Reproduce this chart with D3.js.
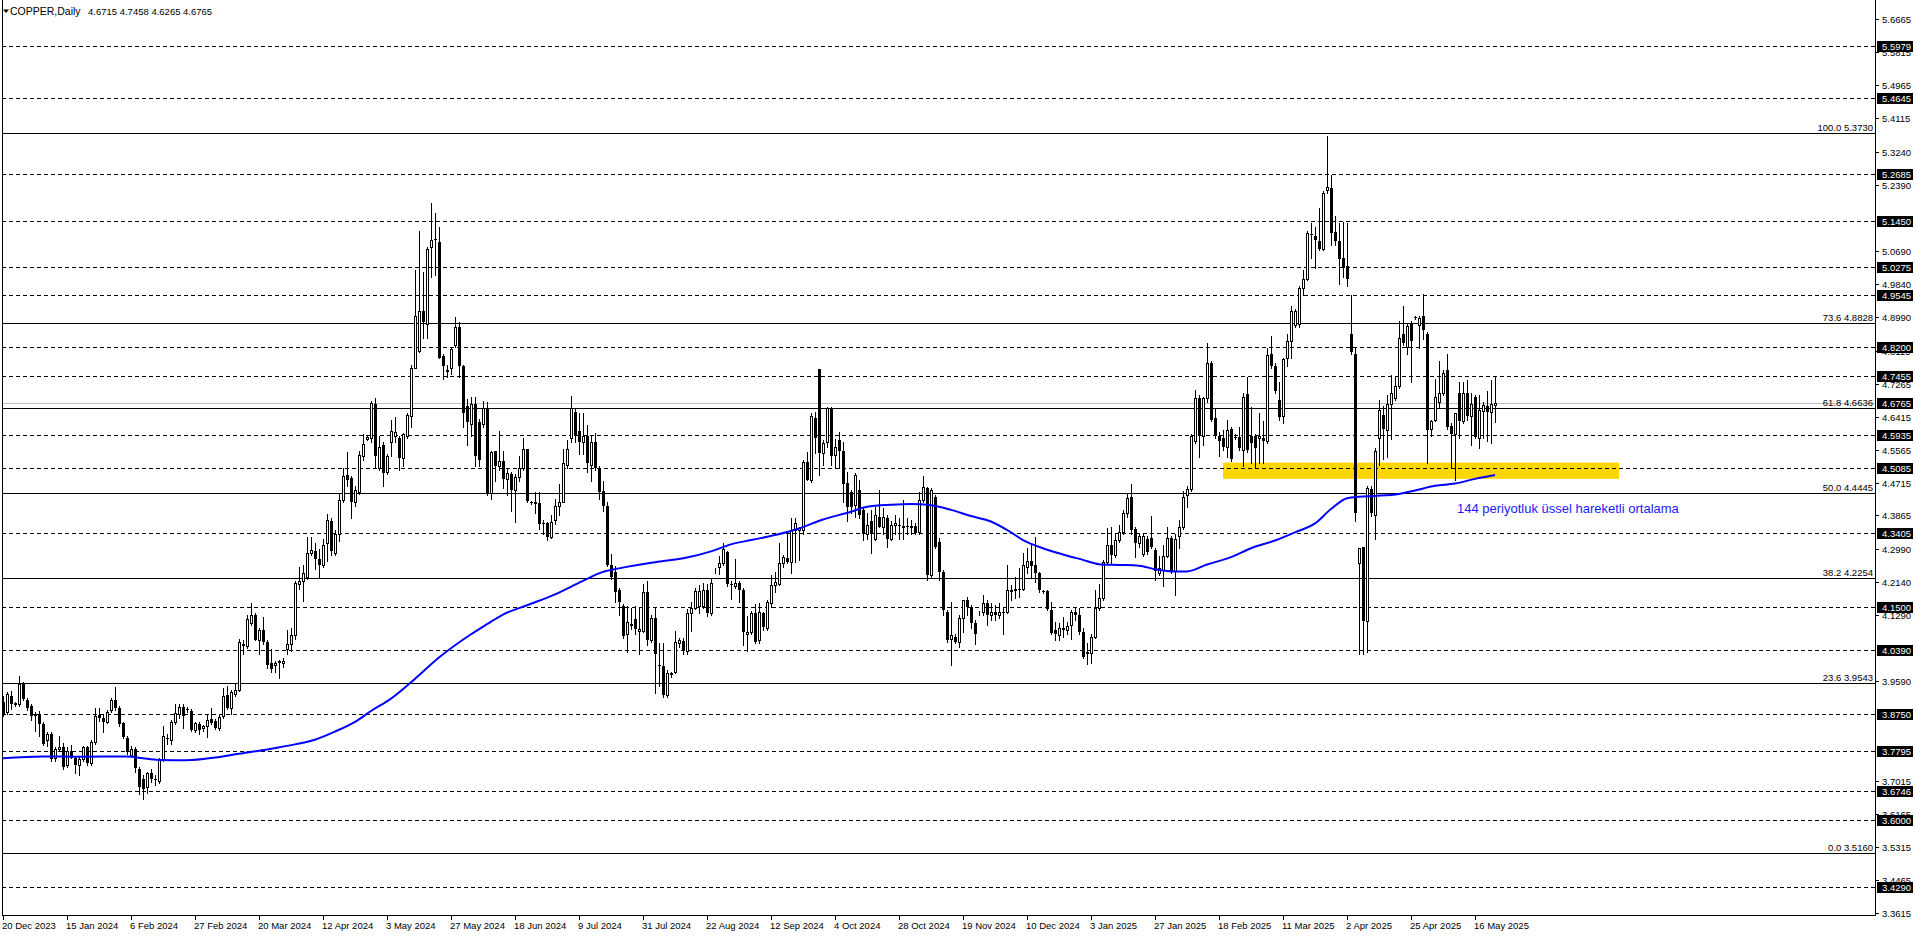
<!DOCTYPE html>
<html><head><meta charset="utf-8">
<script src="https://cdn.jsdelivr.net/npm/d3@7"></script>
<style>
html,body{margin:0;padding:0;background:#fff;overflow:hidden}
svg{display:block}
text{font-family:"Liberation Sans",Arial,sans-serif}
</style></head><body>
<svg id="chart" width="1916" height="936"></svg>
<script>
// ---------------- data ----------------
const symbolTitle = "COPPER,Daily";
const ohlcTitle = "4.6715 4.7458 4.6265 4.6765";
const emaLabel = "144 periyotluk üssel hareketli ortalama";

const xTickBars = [0,16,32,48,64,80,96,112,128,144,160,176,192,208,224,240,256,272,288,304,320,336,352,368];
const xTickLabels = ["20 Dec 2023","15 Jan 2024","6 Feb 2024","27 Feb 2024","20 Mar 2024","12 Apr 2024","3 May 2024","27 May 2024","18 Jun 2024","9 Jul 2024","31 Jul 2024","22 Aug 2024","12 Sep 2024","4 Oct 2024","28 Oct 2024","19 Nov 2024","10 Dec 2024","3 Jan 2025","27 Jan 2025","18 Feb 2025","11 Mar 2025","2 Apr 2025","25 Apr 2025","16 May 2025"];

// visible price-scale labels (the ones fully hidden behind level boxes are left out)
const yTickLabels = [5.6665,5.5815,5.4965,5.4115,5.3240,5.2390,5.0690,4.9840,4.8990,4.8115,4.7265,4.6415,4.5565,4.4715,4.3865,4.2990,4.2140,4.1290,3.9590,3.7015,3.6165,3.5315,3.4465,3.3615];

const levelPrices = [5.5979,5.4645,5.2685,5.1450,5.0275,4.9545,4.8200,4.7455,4.5935,4.5085,4.3405,4.1500,4.0390,3.8750,3.7795,3.6746,3.6000,3.4290];
const currentPrice = 4.6765;

const fibRatios = ["100.0","73.6","61.8","50.0","38.2","23.6","0.0"];
const fibPrices = [5.3730,4.8828,4.6636,4.4445,4.2254,3.9543,3.5160];

const zoneBars = [305,404];
const zonePrices = [4.523,4.481];

const opens = [
3.905,3.880,3.921,3.900,3.900,3.951,3.910,3.895,3.875,3.875,
3.849,3.808,3.823,3.762,3.785,3.788,3.742,3.780,3.762,3.742,
3.757,3.788,3.747,3.803,3.872,3.865,3.854,3.885,3.910,3.890,
3.851,3.813,3.769,3.783,3.732,3.706,3.685,3.721,3.706,3.701,
3.757,3.813,3.808,3.854,3.875,3.892,3.887,3.882,3.834,3.849,
3.837,3.844,3.861,3.856,3.839,3.870,3.923,3.890,3.926,3.936,
4.054,4.049,4.110,4.130,4.064,4.090,4.059,4.007,4.002,4.010,
4.005,4.043,4.054,4.077,4.209,4.217,4.228,4.291,4.294,4.274,
4.258,4.315,4.373,4.289,4.340,4.427,4.491,4.483,4.422,4.448,
4.540,4.585,4.586,4.673,4.508,4.568,4.499,4.577,4.591,4.586,
4.536,4.591,4.643,4.766,4.812,4.915,4.881,5.079,5.100,5.093,
4.798,4.761,4.766,4.826,4.874,4.771,4.669,4.623,4.674,4.628,
4.623,4.665,4.444,4.554,4.513,4.527,4.480,4.494,4.453,4.487,
4.508,4.557,4.420,4.420,4.419,4.367,4.367,4.330,4.375,4.411,
4.422,4.517,4.586,4.653,4.605,4.577,4.591,4.517,4.577,4.508,
4.450,4.411,4.259,4.241,4.195,4.154,4.080,4.105,4.119,4.089,
4.089,4.190,4.066,4.121,4.002,3.997,3.923,3.981,3.983,4.057,
4.063,4.038,4.135,4.149,4.154,4.154,4.195,4.135,4.245,4.253,
4.264,4.293,4.210,4.204,4.213,4.195,4.082,4.085,4.135,4.065,
4.134,4.095,4.160,4.207,4.211,4.263,4.276,4.267,4.349,4.349,
4.349,4.525,4.478,4.637,4.764,4.547,4.577,4.663,4.542,4.580,
4.554,4.471,4.448,4.413,4.452,4.401,4.340,4.371,4.327,4.383,
4.358,4.379,4.327,4.362,4.361,4.357,4.359,4.357,4.359,4.345,
4.426,4.457,4.233,4.435,4.319,4.241,4.138,4.069,4.074,4.061,
4.121,4.168,4.151,4.108,4.134,4.138,4.160,4.130,4.138,4.130,
4.138,4.138,4.194,4.194,4.198,4.198,4.254,4.269,4.259,4.237,
4.192,4.192,4.143,4.091,4.078,4.095,4.091,4.104,4.138,4.130,
4.087,4.031,4.031,4.074,4.147,4.173,4.267,4.310,4.285,4.323,
4.345,4.392,4.435,4.352,4.316,4.288,4.325,4.329,4.297,4.237,
4.247,4.283,4.329,4.242,4.334,4.357,4.440,4.454,4.578,4.689,
4.592,4.689,4.781,4.638,4.592,4.587,4.564,4.610,4.590,4.589,
4.555,4.700,4.592,4.592,4.587,4.587,4.578,4.804,4.771,4.684,
4.643,4.794,4.836,4.877,4.880,4.974,4.997,5.112,5.108,5.094,
5.075,5.227,5.232,5.117,5.094,5.052,5.029,4.854,4.804,4.265,
4.306,4.113,4.454,4.389,4.587,4.647,4.606,4.675,4.689,4.721,
4.854,4.822,4.882,4.898,4.877,4.900,4.854,4.610,4.633,4.679,
4.702,4.762,4.617,4.596,4.702,4.629,4.702,4.643,4.693,4.587,
4.656,4.670,4.654,4.6715];

const highs = [
3.921,3.931,3.933,3.905,3.972,3.956,3.915,3.900,3.880,3.882,
3.855,3.829,3.827,3.788,3.818,3.800,3.790,3.795,3.767,3.767,
3.793,3.793,3.808,3.890,3.890,3.875,3.885,3.915,3.943,3.895,
3.854,3.818,3.793,3.788,3.737,3.716,3.726,3.732,3.716,3.762,
3.844,3.823,3.859,3.900,3.900,3.900,3.893,3.887,3.854,3.854,
3.846,3.875,3.890,3.862,3.875,3.941,3.946,3.936,3.951,4.069,
4.064,4.130,4.161,4.135,4.095,4.125,4.064,4.043,4.010,4.013,
4.018,4.090,4.095,4.217,4.253,4.258,4.330,4.330,4.315,4.299,
4.325,4.391,4.381,4.350,4.442,4.509,4.550,4.488,4.463,4.553,
4.596,4.591,4.683,4.690,4.591,4.577,4.545,4.632,4.641,4.591,
4.600,4.651,4.775,5.019,5.121,5.015,5.079,5.192,5.168,5.130,
4.803,4.775,4.821,4.899,4.886,4.775,4.688,4.692,4.692,4.635,
4.683,4.678,4.554,4.554,4.605,4.554,4.508,4.499,4.494,4.540,
4.586,4.559,4.425,4.448,4.448,4.375,4.370,4.388,4.430,4.467,
4.559,4.582,4.695,4.665,4.651,4.651,4.619,4.591,4.600,4.513,
4.476,4.422,4.287,4.255,4.200,4.158,4.154,4.149,4.152,4.149,
4.209,4.218,4.130,4.149,4.057,4.057,3.988,3.983,4.089,4.071,
4.071,4.144,4.163,4.200,4.207,4.213,4.209,4.223,4.250,4.282,
4.315,4.296,4.218,4.273,4.218,4.200,4.126,4.140,4.158,4.160,
4.138,4.168,4.233,4.241,4.315,4.285,4.340,4.379,4.379,4.358,
4.530,4.551,4.650,4.654,4.764,4.581,4.667,4.667,4.585,4.603,
4.577,4.499,4.452,4.495,4.478,4.405,4.392,4.401,4.409,4.452,
4.405,4.388,4.371,4.388,4.379,4.426,4.379,4.375,4.366,4.448,
4.488,4.461,4.457,4.439,4.328,4.246,4.143,4.164,4.082,4.129,
4.168,4.177,4.155,4.117,4.140,4.181,4.168,4.160,4.155,4.160,
4.151,4.259,4.207,4.229,4.250,4.289,4.302,4.315,4.332,4.241,
4.194,4.194,4.164,4.112,4.108,4.125,4.112,4.143,4.147,4.147,
4.095,4.057,4.082,4.194,4.211,4.272,4.353,4.358,4.340,4.362,
4.400,4.444,4.467,4.357,4.339,4.339,4.334,4.385,4.302,4.283,
4.311,4.357,4.334,4.339,4.375,4.449,4.463,4.596,4.711,4.698,
4.693,4.831,4.785,4.665,4.601,4.606,4.633,4.615,4.596,4.615,
4.702,4.744,4.666,4.596,4.652,4.629,4.818,4.850,4.781,4.730,
4.794,4.854,4.928,4.919,4.979,5.020,5.121,5.140,5.131,5.181,
5.223,5.366,5.264,5.158,5.140,5.144,5.140,4.956,4.818,4.302,
4.306,4.463,4.463,4.560,4.684,4.670,4.698,4.748,4.744,4.887,
4.928,4.882,4.887,4.900,4.900,4.958,4.859,4.633,4.739,4.785,
4.762,4.804,4.624,4.652,4.730,4.730,4.735,4.702,4.698,4.698,
4.679,4.707,4.736,4.7458];

const lows = [
3.870,3.875,3.888,3.895,3.895,3.910,3.885,3.859,3.831,3.818,
3.795,3.792,3.752,3.752,3.778,3.732,3.737,3.762,3.721,3.716,
3.752,3.742,3.742,3.798,3.857,3.829,3.851,3.880,3.885,3.844,
3.813,3.772,3.767,3.726,3.668,3.655,3.670,3.700,3.690,3.696,
3.752,3.798,3.798,3.849,3.865,3.839,3.880,3.831,3.829,3.824,
3.831,3.816,3.849,3.836,3.834,3.865,3.888,3.875,3.921,3.933,
4.030,4.044,4.105,4.064,4.028,4.054,3.992,3.982,3.982,3.967,
3.995,4.028,4.038,4.069,4.197,4.166,4.223,4.284,4.248,4.228,
4.253,4.269,4.284,4.284,4.320,4.422,4.463,4.381,4.412,4.442,
4.530,4.580,4.575,4.509,4.504,4.462,4.494,4.540,4.577,4.503,
4.513,4.586,4.614,4.766,4.807,4.844,4.844,5.001,5.006,4.793,
4.738,4.743,4.752,4.821,4.743,4.614,4.568,4.591,4.513,4.513,
4.614,4.439,4.430,4.476,4.503,4.458,4.439,4.397,4.370,4.476,
4.503,4.421,4.416,4.393,4.352,4.338,4.324,4.328,4.365,4.388,
4.421,4.508,4.577,4.577,4.545,4.545,4.499,4.476,4.505,4.430,
4.398,4.255,4.223,4.163,4.130,4.071,4.034,4.094,4.080,4.029,
4.085,4.052,4.061,3.928,3.946,3.919,3.919,3.969,3.979,4.048,
4.029,4.029,4.089,4.144,4.135,4.149,4.126,4.130,4.238,4.236,
4.259,4.204,4.172,4.200,4.163,4.052,4.038,4.080,4.057,4.057,
4.091,4.091,4.151,4.190,4.207,4.254,4.263,4.237,4.267,4.272,
4.340,4.478,4.474,4.547,4.491,4.517,4.564,4.517,4.508,4.508,
4.422,4.371,4.392,4.383,4.379,4.323,4.327,4.289,4.323,4.357,
4.340,4.306,4.323,4.340,4.327,4.327,4.340,4.340,4.340,4.340,
4.422,4.220,4.229,4.302,4.220,4.129,4.061,4.001,4.057,4.048,
4.087,4.129,4.095,4.056,4.130,4.130,4.104,4.117,4.117,4.121,
4.082,4.134,4.168,4.173,4.177,4.194,4.237,4.224,4.216,4.190,
4.186,4.143,4.082,4.065,4.065,4.074,4.082,4.069,4.117,4.082,
4.018,4.003,4.005,4.070,4.142,4.168,4.263,4.263,4.280,4.319,
4.340,4.383,4.339,4.279,4.306,4.283,4.288,4.302,4.219,4.233,
4.205,4.279,4.237,4.182,4.302,4.352,4.408,4.449,4.573,4.537,
4.569,4.679,4.629,4.587,4.541,4.555,4.537,4.527,4.583,4.555,
4.514,4.550,4.523,4.509,4.523,4.523,4.573,4.767,4.702,4.633,
4.624,4.771,4.794,4.873,4.873,4.956,4.993,5.052,5.025,5.071,
5.071,5.218,5.085,5.085,4.983,5.002,4.979,4.804,4.371,4.030,
4.030,4.035,4.385,4.325,4.518,4.532,4.537,4.583,4.684,4.716,
4.827,4.804,4.730,4.893,4.818,4.841,4.523,4.592,4.629,4.666,
4.698,4.610,4.509,4.477,4.587,4.624,4.633,4.569,4.587,4.560,
4.587,4.578,4.573,4.6265];

const closes = [
3.875,3.926,3.900,3.902,3.951,3.912,3.890,3.870,3.868,3.849,
3.798,3.823,3.757,3.783,3.790,3.737,3.780,3.762,3.742,3.757,
3.788,3.747,3.803,3.870,3.865,3.854,3.880,3.910,3.890,3.849,
3.816,3.777,3.783,3.735,3.685,3.680,3.721,3.706,3.703,3.757,
3.818,3.810,3.854,3.878,3.892,3.870,3.886,3.834,3.851,3.834,
3.844,3.859,3.851,3.839,3.867,3.921,3.890,3.931,3.936,4.059,
4.049,4.120,4.130,4.064,4.090,4.059,4.002,3.990,4.007,4.007,
4.010,4.056,4.077,4.212,4.217,4.238,4.291,4.297,4.274,4.258,
4.311,4.376,4.294,4.340,4.427,4.488,4.478,4.422,4.453,4.543,
4.572,4.588,4.676,4.540,4.563,4.496,4.540,4.605,4.603,4.536,
4.597,4.646,4.766,4.900,4.913,4.886,5.073,5.098,5.097,4.794,
4.771,4.757,4.817,4.872,4.771,4.651,4.628,4.674,4.540,4.530,
4.665,4.444,4.549,4.513,4.527,4.480,4.496,4.453,4.487,4.508,
4.557,4.425,4.418,4.416,4.365,4.365,4.330,4.370,4.411,4.422,
4.522,4.559,4.665,4.591,4.577,4.591,4.522,4.577,4.508,4.448,
4.411,4.259,4.227,4.190,4.163,4.075,4.112,4.106,4.094,4.094,
4.190,4.066,4.121,4.029,3.997,3.923,3.979,3.976,4.061,4.066,
4.038,4.135,4.149,4.192,4.192,4.195,4.135,4.213,4.246,4.264,
4.301,4.209,4.209,4.213,4.195,4.085,4.085,4.135,4.061,4.138,
4.100,4.164,4.207,4.216,4.263,4.280,4.267,4.349,4.366,4.353,
4.525,4.478,4.643,4.586,4.547,4.574,4.663,4.540,4.564,4.554,
4.469,4.409,4.409,4.491,4.388,4.340,4.362,4.340,4.388,4.358,
4.383,4.327,4.362,4.366,4.359,4.360,4.358,4.359,4.342,4.426,
4.461,4.233,4.452,4.306,4.241,4.143,4.065,4.078,4.061,4.121,
4.168,4.151,4.108,4.082,4.136,4.160,4.130,4.138,4.130,4.138,
4.134,4.194,4.190,4.198,4.194,4.259,4.269,4.256,4.237,4.194,
4.190,4.144,4.084,4.082,4.095,4.091,4.101,4.138,4.130,4.087,
4.022,4.035,4.074,4.147,4.173,4.267,4.310,4.285,4.323,4.345,
4.392,4.431,4.348,4.316,4.334,4.334,4.293,4.306,4.242,4.251,
4.283,4.329,4.242,4.325,4.357,4.435,4.454,4.592,4.689,4.592,
4.689,4.781,4.633,4.592,4.578,4.564,4.606,4.532,4.588,4.560,
4.693,4.555,4.573,4.560,4.592,4.578,4.801,4.771,4.707,4.641,
4.790,4.836,4.914,4.914,4.974,4.997,5.114,5.109,5.098,5.075,
5.218,5.234,5.114,5.094,5.048,5.025,4.997,4.808,4.394,4.302,
4.113,4.458,4.394,4.552,4.659,4.610,4.675,4.702,4.721,4.845,
4.831,4.875,4.836,4.897,4.896,4.864,4.606,4.629,4.693,4.702,
4.753,4.615,4.596,4.652,4.629,4.702,4.643,4.675,4.589,4.659,
4.672,4.654,4.675,4.6765];

// 144-period EMA at sample bars
const emaBars = [0,10,20,31,35,39,46,53,59,66,73,78,83,88,92,97,102,109,117,121,125,131,138,145,150,154,163,171,177,182,187,193,199,205,212,216,222,227,232,237,242,247,252,255,260,265,270,274,279,284,288,293,296,301,307,312,318,323,328,332,336,339,343,349,353,358,363,368,373];
const emaValues = [3.760,3.765,3.764,3.765,3.760,3.756,3.755,3.762,3.772,3.783,3.796,3.808,3.829,3.854,3.882,3.914,3.956,4.020,4.080,4.106,4.131,4.155,4.183,4.218,4.241,4.250,4.266,4.278,4.294,4.312,4.323,4.336,4.353,4.376,4.396,4.409,4.414,4.416,4.413,4.401,4.385,4.371,4.343,4.323,4.302,4.286,4.272,4.261,4.259,4.257,4.248,4.242,4.242,4.260,4.279,4.302,4.322,4.343,4.366,4.403,4.431,4.435,4.437,4.442,4.451,4.463,4.469,4.481,4.491];

// ---------------- drawing ----------------
const W = 1916, H = 936;
const L = 2, R = 1875, B = 915;
const svg = d3.select("#chart");
svg.append("rect").attr("width", W).attr("height", H).attr("fill", "#fff");

const x = d3.scaleLinear().domain([0, 373]).range([3, 1495]);
const y = d3.scaleLinear().domain([3.3558, 5.7138]).range([915, 1]);
const py = p => Math.round(y(p)) + 0.5;

svg.append("defs").append("clipPath").attr("id", "plotclip")
  .append("rect").attr("x", L + 1).attr("y", 0).attr("width", R - L - 1).attr("height", B);
const plot = svg.append("g").attr("clip-path", "url(#plotclip)");

// yellow support zone
plot.append("rect")
  .attr("x", x(zoneBars[0])).attr("width", x(zoneBars[1]) - x(zoneBars[0]))
  .attr("y", y(zonePrices[0])).attr("height", y(zonePrices[1]) - y(zonePrices[0]))
  .attr("fill", "#FFD700");

// dashed horizontal levels
plot.selectAll("line.lvl").data(levelPrices).join("line").attr("class", "lvl")
  .attr("x1", L).attr("x2", R).attr("y1", py).attr("y2", py)
  .attr("stroke", "#000").attr("stroke-width", 1).attr("stroke-dasharray", "4,3");

// current price line
plot.append("line").attr("x1", L).attr("x2", R)
  .attr("y1", py(currentPrice)).attr("y2", py(currentPrice))
  .attr("stroke", "#C0C0C0").attr("stroke-width", 1);

// fibonacci lines
plot.selectAll("line.fib").data(fibPrices).join("line").attr("class", "fib")
  .attr("x1", L).attr("x2", R).attr("y1", py).attr("y2", py)
  .attr("stroke", "#000").attr("stroke-width", 1);

// candles
const idx = d3.range(opens.length);
const cg = plot.append("g");
cg.selectAll("line.wick").data(idx).join("line").attr("class", "wick")
  .attr("x1", i => Math.round(x(i)) + 0.5).attr("x2", i => Math.round(x(i)) + 0.5)
  .attr("y1", i => Math.round(y(Math.max(highs[i], opens[i], closes[i]))))
  .attr("y2", i => Math.round(y(Math.min(lows[i], opens[i], closes[i]))) + 1)
  .attr("stroke", "#000").attr("stroke-width", 1);
cg.selectAll("rect.body").data(idx).join("rect").attr("class", "body")
  .each(function(i) {
    const cx = Math.round(x(i));
    const top = Math.round(y(Math.max(opens[i], closes[i])));
    const bot = Math.round(y(Math.min(opens[i], closes[i])));
    const bull = closes[i] >= opens[i];
    const s = d3.select(this);
    if (bull) {
      s.attr("x", cx - 0.5).attr("y", top + 0.5).attr("width", 2).attr("height", Math.max(bot - top, 0))
       .attr("fill", "#fff").attr("stroke", "#000").attr("stroke-width", 1);
    } else {
      s.attr("x", cx - 1).attr("y", top).attr("width", 3).attr("height", Math.max(bot - top, 1))
       .attr("fill", "#000");
    }
  });

// EMA line
const emaLine = d3.line().x((d, k) => x(emaBars[k])).y(d => y(d)).curve(d3.curveMonotoneX);
plot.append("path").datum(emaValues).attr("d", emaLine)
  .attr("fill", "none").attr("stroke", "#0000FF").attr("stroke-width", 2);

// EMA label
svg.append("text").attr("x", 1457).attr("y", 513).attr("font-size", 13)
  .attr("fill", "#1a1aff").text(emaLabel);

// fib labels
svg.selectAll("text.fibl").data(fibPrices).join("text").attr("class", "fibl")
  .attr("x", R - 2).attr("y", p => Math.round(y(p)) - 2).attr("text-anchor", "end")
  .attr("font-size", 9.5).attr("fill", "#000")
  .text((p, k) => fibRatios[k] + " " + p.toFixed(4));

// frame
svg.append("line").attr("x1", L + 0.5).attr("x2", L + 0.5).attr("y1", 0).attr("y2", B + 1).attr("stroke", "#000");
svg.append("line").attr("x1", L).attr("x2", R + 1).attr("y1", B + 0.5).attr("y2", B + 0.5).attr("stroke", "#000");
svg.append("line").attr("x1", R + 0.5).attr("x2", R + 0.5).attr("y1", 0).attr("y2", B + 1).attr("stroke", "#000");

// y-axis ticks and labels
const ya = svg.append("g");
ya.selectAll("line").data(yTickLabels).join("line")
  .attr("x1", R).attr("x2", R + 4).attr("y1", py).attr("y2", py).attr("stroke", "#000");
ya.selectAll("text").data(yTickLabels).join("text")
  .attr("x", 1882).attr("y", p => Math.round(y(p)) + 4)
  .attr("font-size", 9.5).attr("fill", "#000").text(p => p.toFixed(4));

// highlighted level boxes
const boxes = levelPrices.concat([currentPrice]);
const bg = svg.append("g");
bg.selectAll("rect").data(boxes).join("rect")
  .attr("x", 1877).attr("width", 36).attr("y", p => Math.round(y(p)) - 5).attr("height", 11)
  .attr("fill", "#000");
bg.selectAll("text").data(boxes).join("text")
  .attr("x", 1882).attr("y", p => Math.round(y(p)) + 4)
  .attr("font-size", 9.5).attr("fill", "#fff").text(p => p.toFixed(4));

// x-axis ticks and labels
const xa = svg.append("g");
xa.selectAll("line").data(xTickBars).join("line")
  .attr("x1", b => Math.round(x(b)) + 0.5).attr("x2", b => Math.round(x(b)) + 0.5)
  .attr("y1", B).attr("y2", B + 5).attr("stroke", "#000");
xa.selectAll("text").data(xTickBars).join("text")
  .attr("x", b => Math.round(x(b)) - 1).attr("y", 929)
  .attr("font-size", 9.5).attr("fill", "#000").text((b, k) => xTickLabels[k]);

// title
svg.append("path").attr("d", "M3,9.5 L9,9.5 L6,13 Z").attr("fill", "#000");
svg.append("text").attr("x", 10).attr("y", 15).attr("font-size", 10.5).attr("fill", "#000").text(symbolTitle);
svg.append("text").attr("x", 88).attr("y", 15).attr("font-size", 9.5).attr("fill", "#000").text(ohlcTitle);
</script>
</body></html>
